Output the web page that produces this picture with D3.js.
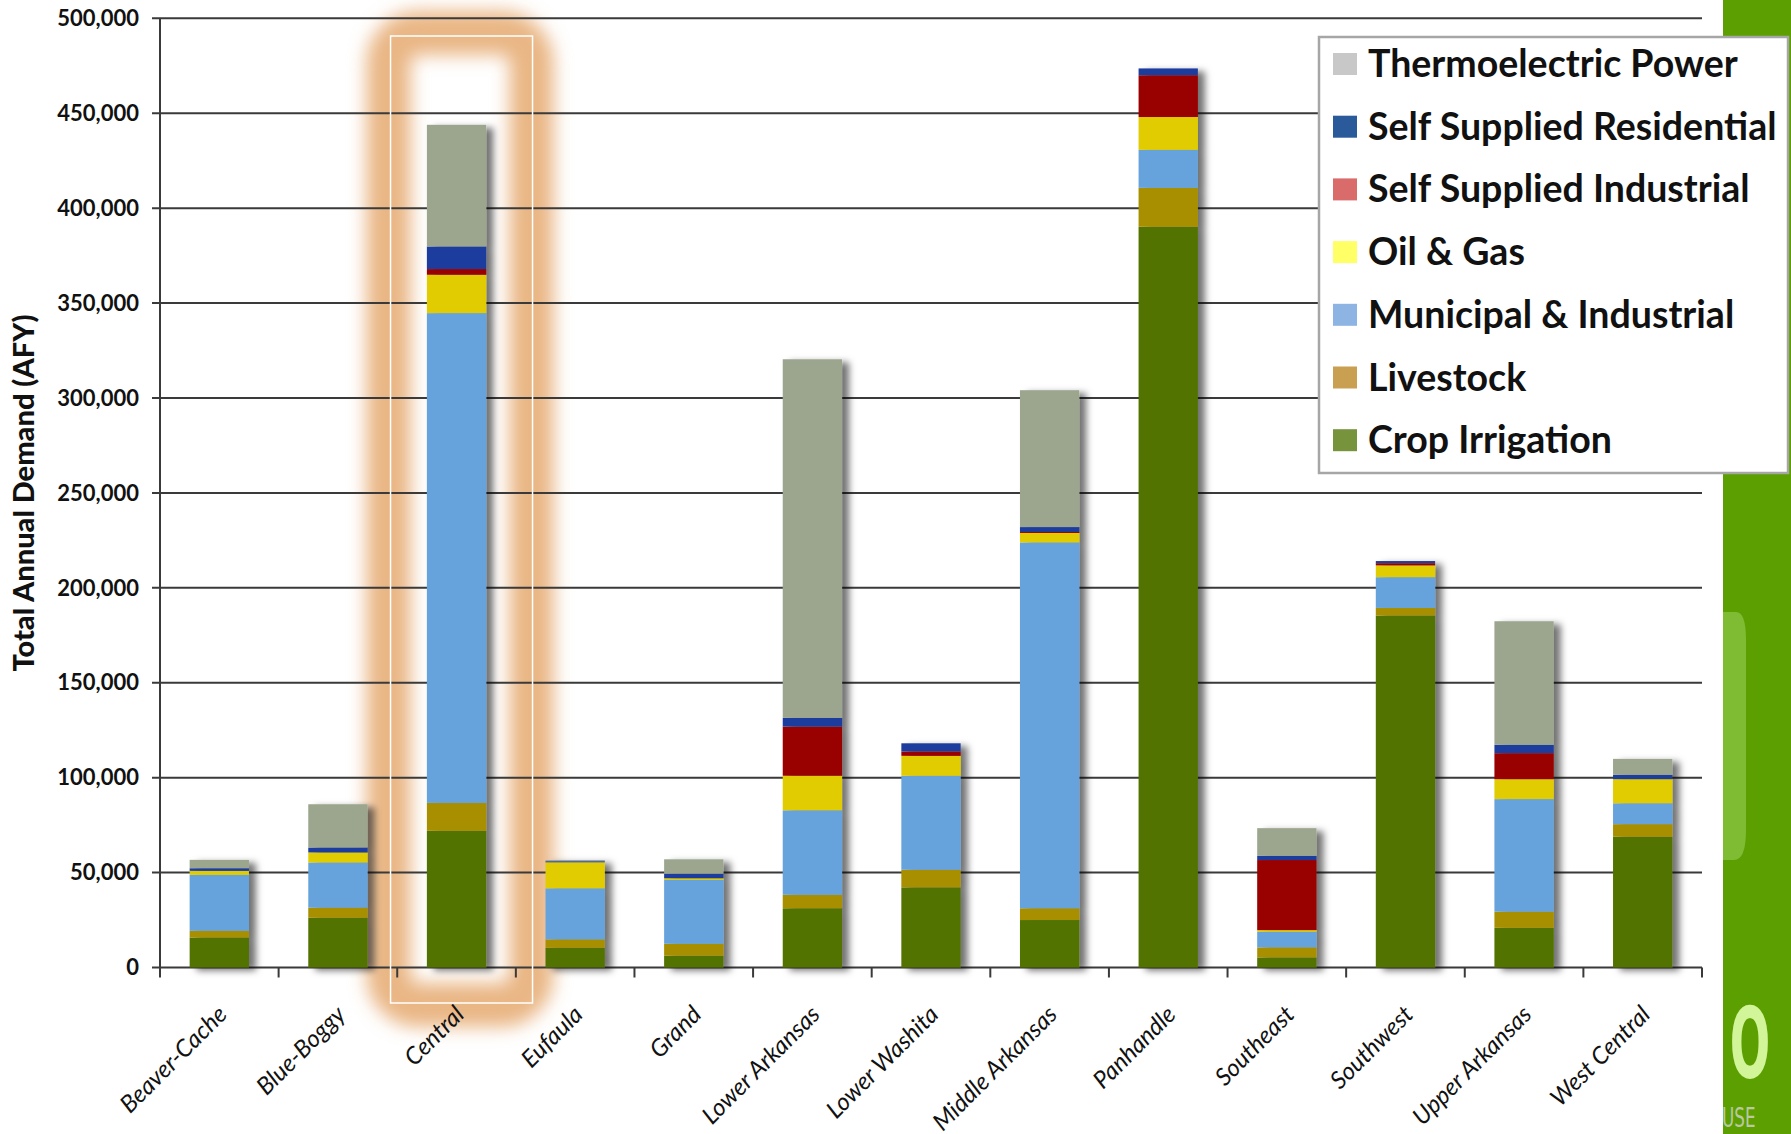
<!DOCTYPE html>
<html>
<head>
<meta charset="utf-8">
<script src="https://cdn.jsdelivr.net/npm/d3@7"></script>
<style>
body{margin:0;background:#fff;}
svg{display:block;font-family:Lato,"Open Sans",sans-serif;}
</style>
</head>
<body>
<div id="chart"></div>
<script>
// regions (x categories)
var regions = ["Beaver-Cache","Blue-Boggy","Central","Eufaula","Grand","Lower Arkansas","Lower Washita",
  "Middle Arkansas","Panhandle","Southeast","Southwest","Upper Arkansas","West Central"];

// demand by sector, AFY (stack order bottom -> top)
var cropIrrigation = [15800, 26200, 72000, 10400, 6200, 31200, 42200, 25000, 390200, 5300, 185400, 20900, 68900];
var livestock      = [3500, 5300, 14700, 4400, 6300, 7100, 9300, 6200, 20500, 5300, 4000, 8500, 6600];
var municipal      = [29500, 23800, 258000, 26900, 33600, 44500, 49500, 192700, 20000, 8200, 16200, 59300, 11000];
var oilGas         = [2100, 5300, 20200, 13700, 900, 18200, 10500, 5000, 17300, 900, 6200, 10500, 12700];
var ssIndustrial   = [0, 0, 3000, 0, 0, 25900, 2300, 500, 22000, 36900, 1200, 13700, 0];
var ssResidential  = [1400, 2600, 11900, 600, 2400, 4600, 4300, 2600, 3600, 2200, 1100, 4400, 2300];
var thermoelectric = [4400, 22800, 64100, 600, 7600, 188900, 0, 72100, 0, 14600, 0, 65100, 8400];

var seriesKeys  = ["crop","livestock","municipal","oil","industrial","residential","thermo"];
var seriesNames = ["Crop Irrigation","Livestock","Municipal & Industrial","Oil & Gas",
  "Self Supplied Industrial","Self Supplied Residential","Thermoelectric Power"];
var barColors    = ["#527300","#a88f00","#66a3dc","#e0cc00","#990000","#1f3d9e","#9ca68f"];
var legendColors = ["#77933c","#c9a052","#8db4e2","#ffff66","#d96b6b","#2a5a9a","#c8c8c8"];

var yTicks = [0,50000,100000,150000,200000,250000,300000,350000,400000,450000,500000];
var yTitle = "Total Annual Demand (AFY)";
var highlighted = "Central";

var W = 1791, H = 1134;
var rows = regions.map(function(r,i){
  return {region:r, crop:cropIrrigation[i], livestock:livestock[i], municipal:municipal[i],
    oil:oilGas[i], industrial:ssIndustrial[i], residential:ssResidential[i], thermo:thermoelectric[i]};
});

var svg = d3.select("#chart").append("svg").attr("width",W).attr("height",H);
var defs = svg.append("defs");
defs.append("filter").attr("id","glow").attr("x","-50%").attr("y","-10%").attr("width","200%").attr("height","120%")
  .append("feGaussianBlur").attr("stdDeviation",9);
defs.append("filter").attr("id","shadow").attr("x","-20%").attr("y","-5%").attr("width","160%").attr("height","115%")
  .append("feDropShadow").attr("dx",7).attr("dy",3).attr("stdDeviation",3.5)
  .attr("flood-color","#000").attr("flood-opacity",0.55);

var x = d3.scaleBand().domain(regions).range([160,1702]).paddingInner(0.5).paddingOuter(0.25);
var y = d3.scaleLinear().domain([0,500000]).range([967.5,18.3]);

// green strip on the right
svg.append("rect").attr("x",1723).attr("y",0).attr("width",W-1723).attr("height",H).attr("fill","#5c9f00");
svg.append("path").attr("d","M1723,612 L1736,612 Q1746,612 1746,640 L1746,830 Q1746,860 1734,860 L1723,860 Z")
  .attr("fill","#80bb34");
svg.append("text").attr("transform","translate(1750,1078) scale(0.85,1.75)")
  .attr("text-anchor","middle").attr("font-family","DejaVu Sans").attr("font-weight","bold")
  .attr("font-size",56).attr("fill","#d2f59a").text("O");
svg.append("text").attr("transform","translate(1722,1127) scale(0.8,1.3)")
  .attr("font-family","DejaVu Sans").attr("font-size",21).attr("fill","#b9c9a0").text("USE");

// highlight glow around Central
var cx = x(highlighted) + x.bandwidth()/2;
svg.append("rect").attr("x",cx-68).attr("y",33).attr("width",143).attr("height",972).attr("rx",30)
  .attr("fill","none").attr("stroke","#e9b684").attr("stroke-width",44).attr("filter","url(#glow)");

// gridlines
svg.append("g").selectAll("line").data(yTicks).enter().append("line")
  .attr("x1",152).attr("x2",1702)
  .attr("y1",function(d){return y(d);}).attr("y2",function(d){return y(d);})
  .attr("stroke","#3a3a3a").attr("stroke-width",2);

// y axis
svg.append("line").attr("x1",160).attr("x2",160).attr("y1",y(500000)).attr("y2",y(0))
  .attr("stroke","#3a3a3a").attr("stroke-width",2);
svg.append("g").selectAll("text").data(yTicks).enter().append("text")
  .attr("x",139).attr("y",function(d){return y(d);}).attr("dy","0.35em")
  .attr("text-anchor","end").attr("font-weight","bold").attr("font-size",22).attr("fill","#111")
  .text(function(d){return d3.format(",")(d);});
svg.append("text").attr("transform","translate(34,493) rotate(-90)")
  .attr("text-anchor","middle").attr("font-weight","900").attr("font-size",29).attr("fill","#111")
  .text(yTitle);

// x axis ticks at band edges
var edges = regions.map(function(r){return x(r) - x.step()*x.paddingInner()/2;}).concat([1702]);
edges[0] = 160;
svg.append("g").selectAll("line").data(edges).enter().append("line")
  .attr("x1",function(d){return d;}).attr("x2",function(d){return d;})
  .attr("y1",y(0)).attr("y2",y(0)+10).attr("stroke","#3a3a3a").attr("stroke-width",2);

// stacked bars
var stacked = d3.stack().keys(seriesKeys)(rows);
var barGroups = svg.append("g").selectAll("g.bar").data(rows).enter().append("g")
  .attr("filter","url(#shadow)");
barGroups.each(function(row,i){
  var g = d3.select(this);
  stacked.forEach(function(s,k){
    var d = s[i];
    if (d[1]-d[0] <= 0) return;
    g.append("rect").attr("x",x(row.region)).attr("width",x.bandwidth())
      .attr("y",y(d[1])).attr("height",y(d[0])-y(d[1])).attr("fill",barColors[k]);
  });
});

// white frame of highlight
svg.append("rect").attr("x",cx-66).attr("y",36).attr("width",142).attr("height",967)
  .attr("fill","none").attr("stroke","#fff").attr("stroke-width",1.5);

// x labels
svg.append("g").selectAll("text").data(regions).enter().append("text")
  .attr("transform",function(d){return "translate("+(x(d)+x.bandwidth()/2+9)+",1016) rotate(-45)";})
  .attr("text-anchor","end").attr("font-style","italic").attr("font-size",24).attr("fill","#111")
  .text(function(d){return d;});

// legend
var lg = svg.append("g");
lg.append("rect").attr("x",1319).attr("y",37).attr("width",469).attr("height",436)
  .attr("fill","#fff").attr("stroke","#a6a6a6").attr("stroke-width",2.5);
var order = d3.range(seriesKeys.length).reverse();
var items = lg.selectAll("g.item").data(order).enter().append("g")
  .attr("transform",function(d,i){return "translate(1333,"+(64+i*62.7)+")";});
items.append("rect").attr("x",0).attr("y",-11).attr("width",24).attr("height",22)
  .attr("fill",function(d){return legendColors[d];});
items.append("text").attr("x",35).attr("y",13).attr("font-weight","bold").attr("font-size",37.5)
  .attr("fill","#111").text(function(d){return seriesNames[d];});
</script>
</body>
</html>
